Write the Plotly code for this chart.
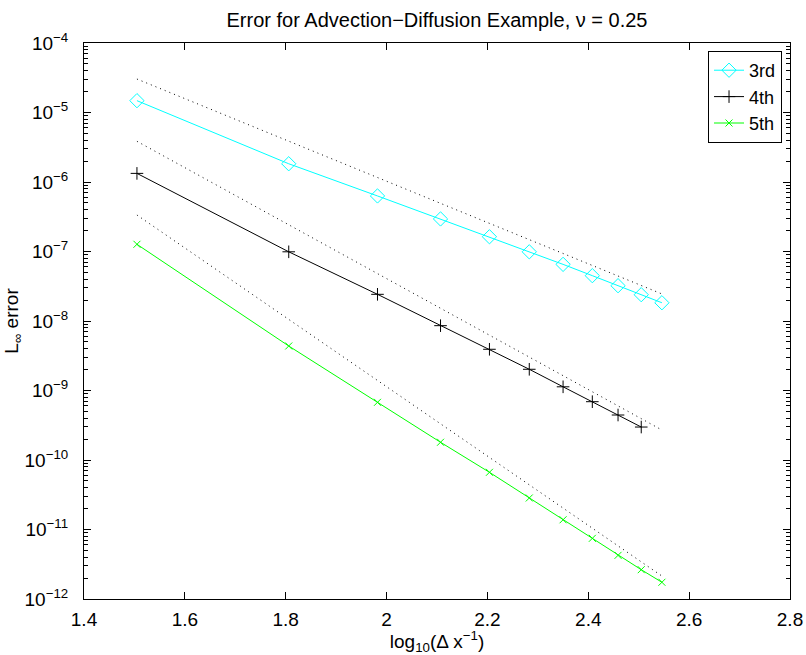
import plotly.graph_objects as go

# x = log10(1/dx)
x_vals = [1.505, 1.806, 1.982, 2.107, 2.204, 2.283, 2.350, 2.408, 2.459, 2.505, 2.546]

err_3rd = [1.48e-5, 1.83e-6, 6.3e-7, 2.94e-7, 1.63e-7, 9.9e-8, 6.53e-8, 4.49e-8, 3.22e-8, 2.39e-8, 1.83e-8]
err_4th = [1.33e-6, 9.9e-8, 2.42e-8, 8.57e-9, 3.92e-9, 2.02e-9, 1.13e-9, 6.9e-10, 4.44e-10, 2.98e-10]
err_5th = [1.27e-7, 4.37e-9, 6.76e-10, 1.8e-10, 6.65e-11, 2.84e-11, 1.38e-11, 7.46e-12, 4.25e-12, 2.64e-12, 1.74e-12]

# dotted reference slopes (endpoints)
ref_x = [1.505, 2.546]
ref_3rd = [3.03e-5, 2.45e-8]
ref_4th = [3.85e-6, 2.7e-10]
ref_5th = [3.35e-7, 2.14e-12]

y_tickvals = [1e-12, 1e-11, 1e-10, 1e-9, 1e-8, 1e-7, 1e-6, 1e-5, 1e-4]
y_ticktext = ["10<sup>−12</sup>", "10<sup>−11</sup>", "10<sup>−10</sup>", "10<sup>−9</sup>",
              "10<sup>−8</sup>", "10<sup>−7</sup>", "10<sup>−6</sup>", "10<sup>−5</sup>", "10<sup>−4</sup>"]
x_tickvals = [1.4, 1.6, 1.8, 2.0, 2.2, 2.4, 2.6, 2.8]
x_ticktext = ["1.4", "1.6", "1.8", "2", "2.2", "2.4", "2.6", "2.8"]

FONT = "Liberation Sans, Arial, Helvetica, sans-serif"

fig = go.Figure()

for ry in [ref_3rd, ref_4th, ref_5th]:
    fig.add_trace(go.Scatter(x=ref_x, y=ry, mode="lines", showlegend=False,
                             line=dict(color="black", width=1, dash="1px,4px"), hoverinfo="skip"))

fig.add_trace(go.Scatter(x=x_vals, y=err_3rd, mode="lines+markers", name="3rd",
                         line=dict(color="#00FFFF", width=1),
                         marker=dict(symbol="diamond-open", size=11, color="#00FFFF", line=dict(width=1))))
fig.add_trace(go.Scatter(x=x_vals[:len(err_4th)], y=err_4th, mode="lines+markers", name="4th",
                         line=dict(color="black", width=1),
                         marker=dict(symbol="cross-thin", size=9, color="black", line=dict(width=1, color="black"))))
fig.add_trace(go.Scatter(x=x_vals, y=err_5th, mode="lines+markers", name="5th",
                         line=dict(color="#00FF00", width=1),
                         marker=dict(symbol="x-thin", size=7, color="#00FF00", line=dict(width=1, color="#00FF00"))))

fig.update_layout(
    width=806, height=655,
    margin=dict(l=84, r=16, t=43, b=56, autoexpand=False),
    paper_bgcolor="white", plot_bgcolor="white",
    font=dict(family=FONT, size=19, color="black"),
    title=dict(text="Error for Advection−Diffusion Example, ν = 0.25",
               x=437 / 806, xanchor="center", y=1 - 20 / 655, yanchor="middle",
               font=dict(size=20)),
    legend=dict(x=0.9887, y=0.9856, xanchor="right", yanchor="top",
                bordercolor="black", borderwidth=1, bgcolor="white",
                font=dict(size=18), tracegroupgap=0, itemwidth=30),
    showlegend=True,
)

fig.update_xaxes(
    range=[1.4, 2.8], tickvals=x_tickvals, ticktext=x_ticktext,
    ticks="inside", ticklen=7, tickcolor="black", showline=True, linecolor="black", linewidth=1,
    mirror="ticks", showgrid=False, zeroline=False, automargin=False,
    tickfont=dict(size=19), ticklabelstandoff=3,
    title=dict(text="log<sub>10</sub>(Δ x<sup>−1</sup>)", standoff=0, font=dict(size=19)),
)
fig.update_yaxes(
    type="log", range=[-12, -4], tickvals=y_tickvals, ticktext=y_ticktext,
    ticks="inside", ticklen=7, tickcolor="black", showline=True, linecolor="black", linewidth=1,
    mirror="ticks", showgrid=False, zeroline=False, automargin=False,
    tickfont=dict(size=19), ticklabelstandoff=11,
    minor=dict(ticks="inside", ticklen=4, tickcolor="black", dtick="D1", showgrid=False),
    title=dict(text="L<sub>∞</sub> error", standoff=0, font=dict(size=19)),
)

fig.write_html("out.html", config={"displayModeBar": False},
               post_script="document.body.style.margin='0';")
